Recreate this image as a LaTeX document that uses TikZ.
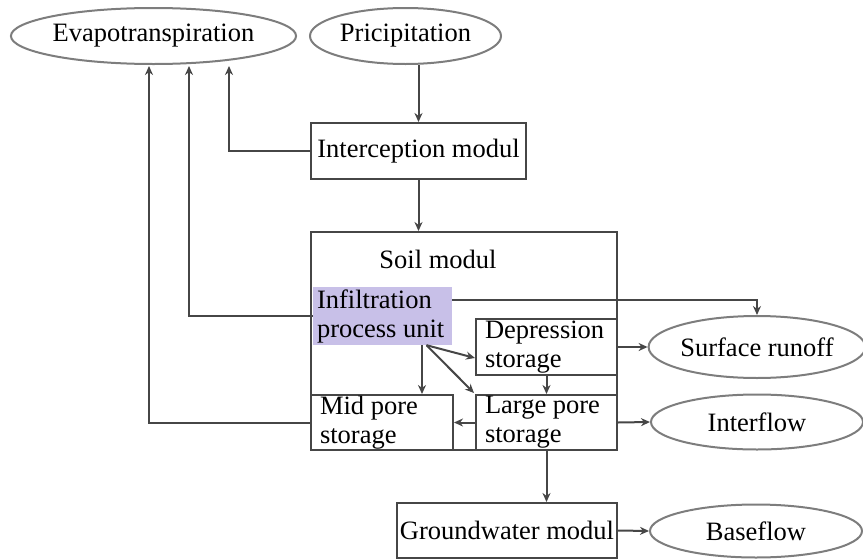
\documentclass[tikz,border=0pt]{standalone}
\usepackage{fontspec}
\setmainfont{Liberation Serif}
\usetikzlibrary{shapes.geometric,arrows.meta,calc}
\newcommand\fs{\fontsize{26.5}{29}\selectfont}
\definecolor{linec}{RGB}{70,70,70}
\definecolor{ellc}{RGB}{125,125,125}
\definecolor{lav}{RGB}{200,192,232}
\begin{document}
\begin{tikzpicture}[x=1pt,y=-1pt,
 lin/.style={draw=linec, line width=2pt},
 arr/.style={lin, -{Stealth[length=9pt,width=8pt]}},
 box/.style={lin, rectangle, inner xsep=9pt, inner ysep=0pt, align=flush left, font=\fs},
 ell/.style={draw=ellc, line width=2pt, ellipse, inner sep=0pt, font=\fs},
]
\useasboundingbox (0,0) rectangle (863,560);

% ellipses
\node[ell, minimum width=283pt, minimum height=56pt] (evap) at (153.5,36) {Evapotranspiration};
\node[ell, minimum width=191pt, minimum height=56pt] (prec) at (405.5,36) {Pricipitation};
\node[ell, minimum width=212pt, minimum height=62pt] (sr) at (757,347) {Surface runoff};
\node[ell, minimum width=212pt, minimum height=55pt] (intf) at (757,422) {Interflow};
\node[ell, minimum width=212pt, minimum height=53pt] (base) at (756,531) {Baseflow};

% boxes
\node[box, minimum width=215pt, minimum height=56pt, inner xsep=2pt, align=flush center] (inter) at (418.5,151) {Interception modul};
\node[lin, rectangle, minimum width=306pt, minimum height=218pt, inner sep=0pt] (soil) at (464,341) {};
\node[font=\fs, inner sep=0pt] (soillbl) at (438,259) {Soil modul};
\node[fill=lav, rectangle, minimum width=139pt, minimum height=58pt, inner xsep=4pt, inner ysep=0pt, text width=131pt, align=flush left, font=\fs] (infil) at (382.5,316) {Infiltration\\process unit};
\node[box, minimum width=141pt, minimum height=56pt, text width=123pt] (dep) at (546.5,347) {Depression\\storage};
\node[box, minimum width=141pt, minimum height=55pt, text width=123pt] (large) at (546.5,422.5) {Large pore\\storage};
\node[box, minimum width=142pt, minimum height=55pt, text width=124pt] (mid) at (382,422.5) {Mid pore\\storage};
\node[box, minimum width=220pt, minimum height=55pt, inner xsep=2pt, align=flush center] (gw) at (507,530.5) {Groundwater modul};

% helper points
\coordinate (iv) at ($(infil.south)+(39.5,0)$);
\coordinate (id) at ($(infil.south)+(44,0)$);
\coordinate (it) at ($(infil.north east)+(0,13)$);

% connectors
\draw[arr] (inter.north |- prec.south) -- (inter.north);
\draw[arr] (inter.south) -- (inter.south |- soil.north);
\draw[arr] (inter.west) -| ($(evap.south)+(75.5,1)$);
\draw[arr] (infil.west) -| ($(evap.south)+(35.5,1)$);
\draw[arr] (mid.west) -| ($(evap.south)+(-4.5,1)$);
\draw[arr] (it) -| (sr.north);
\draw[arr] (iv) -- (iv |- mid.north);
\draw[arr] (id) -- ($(dep.west)+(0,11)$);
\draw[arr] (id) -- ($(large.north west)+(-1,-1)$);
\draw[arr] (dep.south) -- (large.north);
\draw[arr] (large.west) -- (mid.east);
\draw[arr] (dep.east) -- (sr.west);
\draw[arr] (large.east) -- (intf.west);
\draw[arr] (large.south) -- (large.south |- gw.north);
\draw[arr] (gw.east) -- (base.west);
\end{tikzpicture}
\end{document}
